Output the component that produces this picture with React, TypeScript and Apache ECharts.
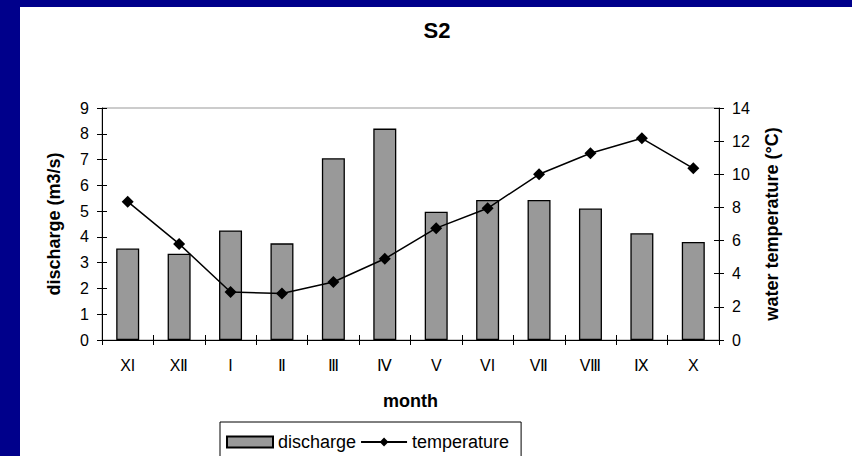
import React, { useEffect, useRef } from "react";
import * as echarts from "echarts";

const months = ["XI", "XⅡ", "I", "Ⅱ", "Ⅲ", "Ⅳ", "V", "VI", "VⅡ", "VⅢ", "Ⅸ", "X"];
const discharge = [3.55, 3.35, 4.25, 3.75, 7.05, 8.2, 4.98, 5.43, 5.43, 5.1, 4.14, 3.8];
const temperature = [8.35, 5.8, 2.9, 2.8, 3.5, 4.9, 6.75, 7.95, 10.0, 11.27, 12.17, 10.36];
const dischargeRange = [0, 9, 1];
const temperatureRange = [0, 14, 2];

const FONT = "'Liberation Sans', Arial, sans-serif";

export default function App() {
  const ref = useRef<HTMLDivElement>(null);
  useEffect(() => {
    document.body.style.margin = "0";
    const chart = echarts.init(ref.current!, null, { renderer: "svg" });
    const tickCommon = { show: true, length: 5, lineStyle: { color: "#000", width: 1 } };
    chart.setOption({
      animation: false,
      backgroundColor: "#fff",
      textStyle: { fontFamily: FONT, color: "#000" },
      title: {
        text: "S2",
        left: 417,
        textAlign: "center",
        top: 12,
        padding: 0,
        textStyle: { fontSize: 22, fontWeight: "bold", color: "#000", fontFamily: FONT },
      },
      grid: {
        left: 82,
        top: 101,
        width: 617,
        height: 232,
        show: true,
        borderColor: "#999",
        borderWidth: 1,
        backgroundColor: "transparent",
      },
      legend: {
        left: 200,
        top: 415,
        orient: "horizontal",
        padding: [11, 12, 20, 6],
        itemGap: 4,
        itemWidth: 46,
        itemHeight: 11,
        borderColor: "#000",
        borderWidth: 1,
        borderRadius: 0,
        textStyle: { fontSize: 18, color: "#000", fontFamily: FONT },
        data: [
          { name: "discharge", icon: "rect" },
          { name: "temperature" },
        ],
      },
      xAxis: [
        {
          type: "category",
          data: months,
          boundaryGap: true,
          axisLine: { show: true, lineStyle: { color: "#000", width: 1 } },
          axisTick: { ...tickCommon, inside: false, alignWithLabel: false },
          axisLabel: { fontSize: 16, color: "#000", margin: 17, fontFamily: FONT, interval: 0 },
          splitLine: { show: false },
          name: "month",
          nameLocation: "middle",
          nameGap: 52,
          nameTextStyle: { fontSize: 18, fontWeight: "bold", color: "#000", fontFamily: FONT },
        },
        {
          type: "category",
          data: months,
          position: "bottom",
          boundaryGap: true,
          axisLine: { show: false },
          axisTick: { ...tickCommon, inside: true },
          axisLabel: { show: false },
          splitLine: { show: false },
        },
      ],
      yAxis: [
        {
          type: "value",
          position: "left",
          min: dischargeRange[0],
          max: dischargeRange[1],
          interval: dischargeRange[2],
          axisLine: { show: true, lineStyle: { color: "#000", width: 1 } },
          axisTick: { ...tickCommon, inside: false },
          axisLabel: { fontSize: 16, color: "#000", margin: 13, fontFamily: FONT },
          splitLine: { show: false },
          name: "discharge (m3/s)",
          nameLocation: "middle",
          nameGap: 39,
          nameTextStyle: { fontSize: 18, fontWeight: "bold", color: "#000", fontFamily: FONT },
        },
        {
          type: "value",
          position: "right",
          min: temperatureRange[0],
          max: temperatureRange[1],
          interval: temperatureRange[2],
          axisLine: { show: true, lineStyle: { color: "#000", width: 1 } },
          axisTick: { ...tickCommon, inside: false },
          axisLabel: { fontSize: 16, color: "#000", margin: 13, fontFamily: FONT },
          splitLine: { show: false },
          name: "water temperature (°C)",
          nameLocation: "middle",
          nameGap: 44,
          nameTextStyle: { fontSize: 18, fontWeight: "bold", color: "#000", fontFamily: FONT },
        },
        {
          type: "value",
          position: "left",
          min: dischargeRange[0],
          max: dischargeRange[1],
          interval: dischargeRange[2],
          axisLine: { show: false },
          axisTick: { ...tickCommon, inside: true },
          axisLabel: { show: false },
          splitLine: { show: false },
        },
        {
          type: "value",
          position: "right",
          min: temperatureRange[0],
          max: temperatureRange[1],
          interval: temperatureRange[2],
          axisLine: { show: false },
          axisTick: { ...tickCommon, inside: true },
          axisLabel: { show: false },
          splitLine: { show: false },
        },
      ],
      series: [
        {
          name: "discharge",
          type: "bar",
          xAxisIndex: 0,
          yAxisIndex: 0,
          data: discharge,
          barWidth: 23,
          itemStyle: { color: "#999999", borderColor: "#000", borderWidth: 1.3 },
        },
        {
          name: "temperature",
          type: "line",
          xAxisIndex: 0,
          yAxisIndex: 1,
          data: temperature,
          symbol: "diamond",
          symbolSize: 12,
          lineStyle: { color: "#000", width: 1.5 },
          itemStyle: { color: "#000" },
          z: 5,
        },
      ],
    });
    return () => chart.dispose();
  }, []);

  return (
    <div style={{ position: "relative", width: 852, height: 456, background: "#00008B", overflow: "hidden" }}>
      <div
        ref={ref}
        style={{ position: "absolute", left: 20, top: 7, width: 832, height: 449, background: "#fff" }}
      />
    </div>
  );
}
